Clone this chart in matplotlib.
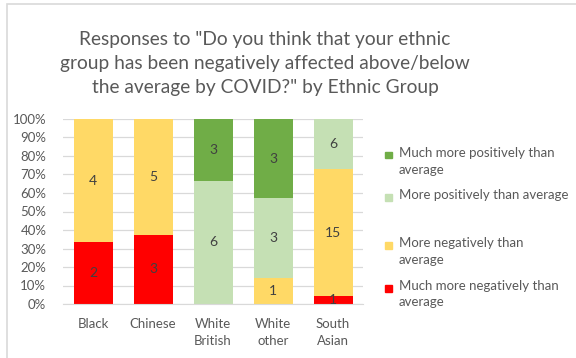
import matplotlib.pyplot as plt
from matplotlib.patches import Rectangle
from matplotlib.ticker import PercentFormatter
import numpy as np

groups = ["Black", "Chinese", "White\nBritish", "White\nother", "South\nAsian"]
series = [
    "Much more negatively than\naverage",
    "More negatively than\naverage",
    "More positively than average",
    "Much more positively than\naverage",
]
much_neg = [2, 3, 0, 0, 1]
more_neg = [4, 5, 0, 1, 15]
more_pos = [0, 0, 6, 3, 6]
much_pos = [0, 0, 3, 3, 0]
colors = ["#FF0000", "#FFD966", "#C5E0B4", "#70AD47"]

plt.rcParams["font.family"] = ["Lato", "DejaVu Sans"]
text_grey = "#595959"

counts = np.array([much_neg, more_neg, more_pos, much_pos], dtype=float)
share = counts / counts.sum(axis=0) * 100

W, H = 576, 358
fig = plt.figure(figsize=(W / 100, H / 100), dpi=100)
ax = fig.add_axes([63 / W, 1 - 304 / H, 300 / W, 185 / H])

x = np.arange(len(groups))
bottom = np.zeros(len(groups))
for i, name in enumerate(series):
    bars = ax.bar(x, share[i], 0.65, bottom=bottom, color=colors[i], label=name, zorder=2)
    for j, b in enumerate(bars):
        if counts[i, j] > 0:
            cy = max(bottom[j] + share[i, j] / 2, 1.0)
            ax.text(x[j], cy, f"{int(counts[i, j])}", ha="center", va="center",
                    fontsize=10, color="#404040", zorder=3)
    bottom += share[i]

ax.set_xlim(-0.5, len(groups) - 0.5)
ax.set_ylim(0, 100)
ax.set_yticks(np.arange(0, 101, 10))
ax.yaxis.set_major_formatter(PercentFormatter(decimals=0))
ax.set_xticks(x)
ax.set_xticklabels(groups, linespacing=1.5)
ax.tick_params(axis="both", length=0, labelsize=9.5, colors=text_grey)
ax.tick_params(axis="x", pad=10)
ax.tick_params(axis="y", pad=12)
ax.grid(axis="y", color="#D9D9D9", linewidth=0.9, zorder=0)
for s in ["top", "right", "left"]:
    ax.spines[s].set_visible(False)
ax.spines["bottom"].set_color("#D9D9D9")

# legend laid out by hand, top entry first (Excel spacing)
legend_y = [155, 197, 245, 288]
for k, i in enumerate(range(len(series) - 1, -1, -1)):
    y = legend_y[k]
    fig.patches.append(Rectangle((385 / W, 1 - (y + 3.5) / H), 7 / W, 7 / H,
                                 transform=fig.transFigure, color=colors[i]))
    fig.text(399 / W, 1 - (y - 8) / H, series[i], ha="left", va="top",
             fontsize=9.5, color=text_grey, linespacing=1.45)

fig.text(265 / W, 1 - 64 / H,
         "Responses to \"Do you think that your ethnic\n"
         "group has been negatively affected above/below\n"
         "the average by COVID?\" by Ethnic Group",
         ha="center", va="center", fontsize=13.8, color=text_grey, linespacing=1.5)

fig.patches.append(Rectangle((7 / W, -0.1), 1.0, 1 - 4 / H + 0.1,
                             transform=fig.transFigure, fill=False,
                             edgecolor="#D9D9D9", linewidth=1.2))

fig.savefig("out.png", dpi=100)
